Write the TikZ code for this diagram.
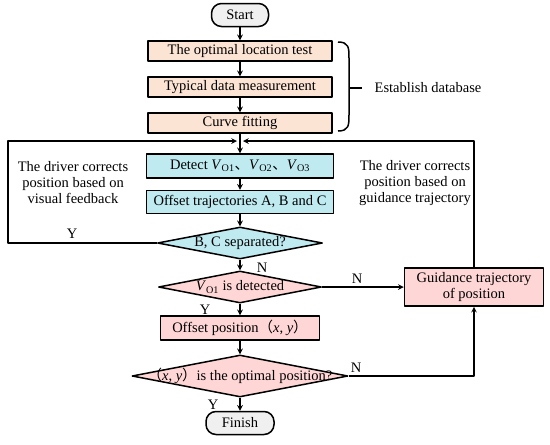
\documentclass[tikz,border=0pt]{standalone}
\usepackage{fontspec}
\setmainfont{Liberation Serif}
\newfontfamily\cjk{Noto Sans CJK SC}
\usetikzlibrary{shapes.geometric}
\definecolor{peachc}{RGB}{252,228,212}
\definecolor{cyanc}{RGB}{190,234,240}
\definecolor{pinkc}{RGB}{255,214,214}
\definecolor{greyc}{RGB}{240,240,240}
\newcommand{\VO}[1]{\textit{V}\textsubscript{O#1}}
\newcommand{\xy}{{\cjk （}\textit{x}, \textit{y}{\cjk ）}}
\newcommand{\ctr}[1]{\makebox[0pt]{#1}}
\begin{document}
\begin{tikzpicture}[x=1pt, y=-1pt, font=\fontsize{14.5}{16}\selectfont, line join=round, >=stealth, line width=1.5pt]
	\tikzset{
		box/.style={draw, inner sep=0pt, minimum width=184pt, minimum height=20pt},
		peachbox/.style={box, fill=peachc},
		cyanbox/.style={box, fill=cyanc, minimum width=187pt, minimum height=24pt},
		pinkbox/.style={box, fill=pinkc},
		dia/.style={draw, diamond, inner sep=0pt},
		term/.style={draw, fill=greyc, rounded corners=10pt, inner sep=0pt, minimum height=23pt},
		lbl/.style={inner sep=1pt},
		note/.style={align=center, inner sep=0pt}
	}
	\useasboundingbox (0,0) rectangle (550,445);
	% main column
	\node[term, minimum width=57pt] (st) at (240,15) {Start};
	\node[peachbox] (ol) at (240,51) {The optimal location test};
	\node[peachbox] (td) at (240,87) {Typical data measurement};
	\node[peachbox] (cf) at (240,123) {Curve fitting};
	\coordinate (mj) at (240,141);
	\node[cyanbox] (dt) at (240,166) {Detect \VO1{\cjk 、}\VO2{\cjk 、}\VO3};
	\node[cyanbox, minimum height=23pt] (ot) at (240,202) {Offset trajectories A, B and C};
	\node[dia, fill=cyanc, minimum width=165pt, minimum height=32pt] (bc) at (240,243) {\ctr{B, C separated?}};
	\node[dia, fill=pinkc, minimum width=163pt, minimum height=32pt] (vd) at (240,287) {\ctr{\VO1 is detected}};
	\node[pinkbox, minimum width=159pt, minimum height=24pt] (op) at (240,328) {Offset position\xy};
	\node[dia, fill=pinkc, minimum width=216pt, minimum height=42pt] (oq) at (240,376) {\ctr{\xy is the optimal position?}};
	\node[term, minimum width=68pt] (fn) at (240,423) {Finish};
	\node[pinkbox, minimum width=139pt, minimum height=38pt, align=center] (gd) at (474,287) {Guidance trajectory\\of position};
	% side notes
	\node[lbl] (ed) at (428,88) {Establish database};
	\node[note] (vf) at (73,183) {The driver corrects\\position based on\\visual feedback};
	\node[note] (gt) at (415,183) {The driver corrects\\position based on\\guidance trajectory};
	\node[lbl] (y1) at (72,234) {Y};
	\node[lbl] (n1) at (262,268) {N};
	\node[lbl] (n2) at (357,279) {N};
	\node[lbl] (y2) at (205,310) {Y};
	\node[lbl] (n3) at (356,368) {N};
	\node[lbl] (y3) at (213,405) {Y};
	% brace
	\draw (338,42) .. controls (349,42) and (349,48) .. (349,58) -- (349,115) .. controls (349,125) and (349,131) .. (338,131);
	\draw (349,88) -- (362,88);
	% connectors
	\draw[->] (st) -- (ol);
	\draw[->] (ol) -- (td);
	\draw[->] (td) -- (cf);
	\draw[->] (cf) -- (dt);
	\draw[->] (dt) -- (ot);
	\draw[->] (ot) -- (bc);
	\draw[->] (bc) -- (vd);
	\draw[->] (vd) -- (op);
	\draw[->] (op) -- (oq);
	\draw[->] (oq) -- (fn);
	\draw[->] (vd) -- (gd);
	\coordinate (lc) at (8,141);
	\draw[->, shorten >=3pt] (bc.west) -| (lc) -- (mj);
	\draw[->, shorten >=3pt] (gd.north) |- (mj);
	\draw[->] (oq.east) -| (gd.south);
\end{tikzpicture}
\end{document}
